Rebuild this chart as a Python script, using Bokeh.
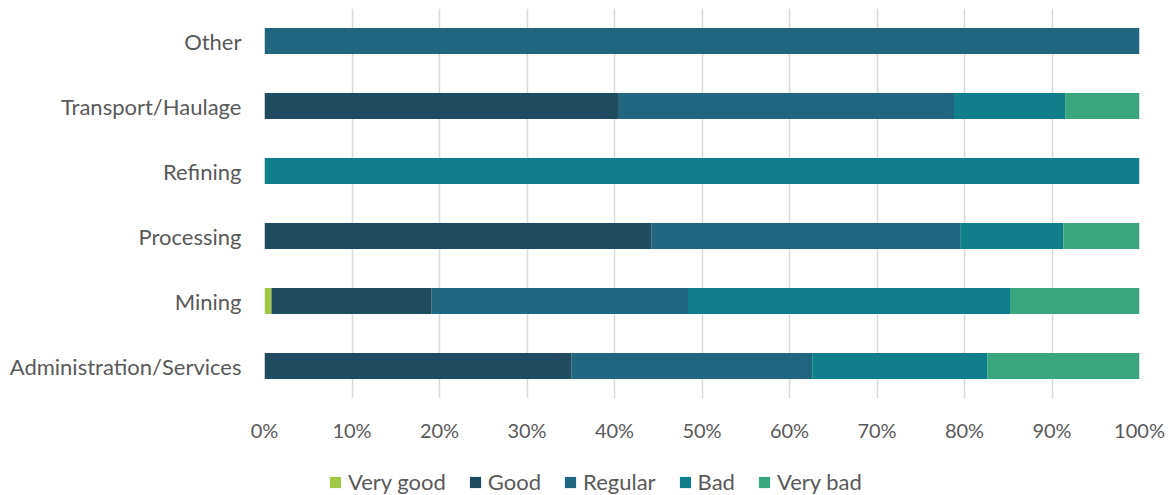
from bokeh.plotting import figure
from bokeh.layouts import column
from bokeh.models import FactorRange, Range1d, NumeralTickFormatter, Legend, LegendItem, FixedTicker, ColumnDataSource
from bokeh.embed import file_html
from bokeh.resources import INLINE

categories = ["Administration/Services", "Mining", "Processing", "Refining", "Transport/Haulage", "Other"]
series = ["Very good", "Good", "Regular", "Bad", "Very bad"]
very_good = [0.0, 0.8, 0.0, 0.0, 0.0, 0.0]
good = [35.1, 18.3, 44.2, 0.0, 40.5, 0.0]
regular = [27.5, 29.3, 35.3, 0.0, 38.3, 100.0]
bad = [20.0, 36.8, 11.8, 100.0, 12.7, 0.0]
very_bad = [17.4, 14.8, 8.7, 0.0, 8.5, 0.0]
colors = ["#A0C846", "#1E4B5F", "#216680", "#117F8B", "#3AA67D"]

data = {"cat": categories}
for name, vals in zip(series, [very_good, good, regular, bad, very_bad]):
    data[name] = [v / 100.0 for v in vals]
source = ColumnDataSource(data)

FONT = "Lato"
TEXT = "#595959"

p = figure(width=1171, height=448, output_backend="svg", toolbar_location=None,
           y_range=FactorRange(factors=categories), x_range=Range1d(0, 1),
           min_border_left=264, min_border_right=32, min_border_top=8, min_border_bottom=50)
p.outline_line_color = None

p.hbar_stack(series, y="cat", height=0.4, color=colors, source=source, line_color=None)

p.xaxis.ticker = FixedTicker(ticks=[i / 10 for i in range(11)])
p.xaxis.formatter = NumeralTickFormatter(format="0%")
p.xaxis.axis_line_color = None
p.xaxis.major_tick_line_color = None
p.xaxis.minor_tick_line_color = None
p.xaxis.major_tick_out = 0
p.xaxis.major_tick_in = 0
p.xaxis.minor_tick_out = 0
p.xaxis.major_label_text_font = FONT
p.xaxis.major_label_text_font_size = "20px"
p.xaxis.major_label_text_color = TEXT
p.xaxis.major_label_standoff = 19

p.yaxis.axis_line_color = None
p.yaxis.major_tick_line_color = None
p.yaxis.major_tick_out = 0
p.yaxis.major_tick_in = 0
p.yaxis.major_label_text_font = FONT
p.yaxis.major_label_text_font_size = "22px"
p.yaxis.major_label_text_color = TEXT
p.yaxis.major_label_standoff = 23

p.xgrid.grid_line_color = "#D9D9D9"
p.xgrid.grid_line_width = 1.5
p.ygrid.grid_line_color = None

# legend strip below the chart (its swatch renderers have zero height, so only the legend shows)
lg = figure(width=1171, height=47, output_backend="svg", toolbar_location=None,
            y_range=FactorRange(factors=categories), x_range=Range1d(5, 6),
            x_axis_type=None, y_axis_type=None,
            min_border_left=264, min_border_right=32, min_border_top=0, min_border_bottom=0)
lg.outline_line_color = None
lg.xgrid.visible = False
lg.ygrid.visible = False
swatches = lg.hbar_stack(series, y="cat", height=0.0, color=colors, source=source, line_color=None)

legend = Legend(items=[LegendItem(label=s, renderers=[r]) for s, r in zip(series, swatches)],
                orientation="horizontal", location=(64, 0),
                label_text_font=FONT, label_text_font_size="22px", label_text_color=TEXT,
                glyph_width=14, glyph_height=14, spacing=22, label_standoff=6,
                border_line_color=None, background_fill_alpha=0, margin=0, padding=0)
lg.add_layout(legend, "center")

layout = column(p, lg, spacing=0)
open("out.html", "w").write(file_html(layout, INLINE))
